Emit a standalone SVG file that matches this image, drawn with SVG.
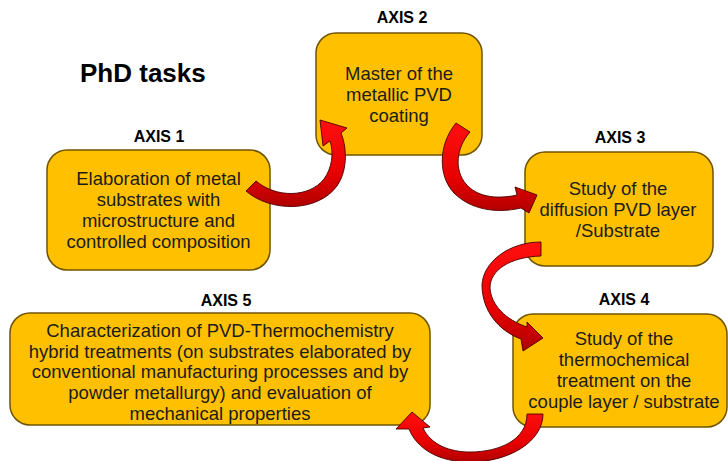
<svg xmlns="http://www.w3.org/2000/svg" width="728" height="461" viewBox="0 0 728 461">
<defs>
<style>
.box{fill:#FFC000;stroke:#6f5400;stroke-width:1.5}
.t{font-family:"Liberation Sans",Arial,sans-serif;font-size:18.5px;fill:#1c1c1c;text-anchor:middle}
.h{font-family:"Liberation Sans",Arial,sans-serif;font-size:16px;font-weight:bold;fill:#000;text-anchor:middle}
.arr{fill:url(#red);stroke:#4a0000;stroke-width:0.9;stroke-linejoin:round}
</style>
<linearGradient id="red" x1="0" y1="0" x2="0" y2="1">
<stop offset="0" stop-color="#ff1010"/>
<stop offset="0.6" stop-color="#e80000"/>
<stop offset="1" stop-color="#b00000"/>
</linearGradient>
</defs>
<rect width="728" height="461" fill="#fff"/>
<text x="80" y="82" font-family="Liberation Sans, Arial, sans-serif" font-size="26" font-weight="bold" fill="#000">PhD tasks</text>

<g id="axis1">
<text class="h" x="159" y="142">AXIS 1</text>
<rect class="box" x="47" y="150" width="223" height="120" rx="20"/>
<text class="t" x="158.5" y="185">Elaboration of metal</text>
<text class="t" x="158.5" y="206">substrates with</text>
<text class="t" x="158.5" y="227">microstructure and</text>
<text class="t" x="158.5" y="248">controlled composition</text>
</g>

<g id="axis2">
<text class="h" x="402" y="23">AXIS 2</text>
<rect class="box" x="316" y="33" width="166" height="122" rx="20"/>
<text class="t" x="399" y="80">Master of the</text>
<text class="t" x="399" y="101">metallic PVD</text>
<text class="t" x="399" y="122">coating</text>
</g>

<g id="axis3">
<text class="h" x="620" y="143">AXIS 3</text>
<rect class="box" x="525" y="152" width="188" height="114" rx="20"/>
<text class="t" x="618" y="195">Study of the</text>
<text class="t" x="618" y="216">diffusion PVD layer</text>
<text class="t" x="618" y="237">/Substrate</text>
</g>

<g id="axis4">
<text class="h" x="624" y="305">AXIS 4</text>
<rect class="box" x="513" y="314" width="214" height="113" rx="20"/>
<text class="t" x="624" y="345">Study of the</text>
<text class="t" x="624" y="366">thermochemical</text>
<text class="t" x="624" y="387">treatment on the</text>
<text class="t" x="624" y="408">couple layer / substrate</text>
</g>

<g id="axis5">
<text class="h" x="226" y="306">AXIS 5</text>
<rect class="box" x="10" y="313" width="420" height="112" rx="20"/>
<text class="t" x="220" y="337">Characterization of PVD-Thermochemistry</text>
<text class="t" x="220" y="358">hybrid treatments (on substrates elaborated by</text>
<text class="t" x="220" y="378">conventional manufacturing processes and by</text>
<text class="t" x="220" y="399">powder metallurgy) and evaluation of</text>
<text class="t" x="220" y="420">mechanical properties</text>
</g>

<g id="connectors">
<path class="arr" d="M246,191 C270,212 317,213 337,186 C349,168 346,145 341,133 L347,128 L320,120 L323,146 L330,141 C334,153 332,168 324,179 C309,198 276,198 256,181 Z"/>
<path class="arr" d="M456,123 C438,145 438,176 454,193 C470,209 495,214 521,208 L529,213 L537,195 L515,187 L517,195 C495,200 476,196 466,184 C454,170 456,148 470,132 Z"/>
<path class="arr" d="M541,242 C509,242 483,262 482,285 C482,311 499,331 521,339 L523,351 L543,338 L527,322 L527,327 C506,320 491,305 490,288 C490,270 510,257 541,256 Z"/>
<path class="arr" d="M543,414 C543,441 510,462 470,462 C439,462 417,449 409,429 L396,429 L412,412 L430,427 L423,428 C431,445 450,452 470,452 C499,452 527,440 527,414 Z"/>
</g>
</svg>
